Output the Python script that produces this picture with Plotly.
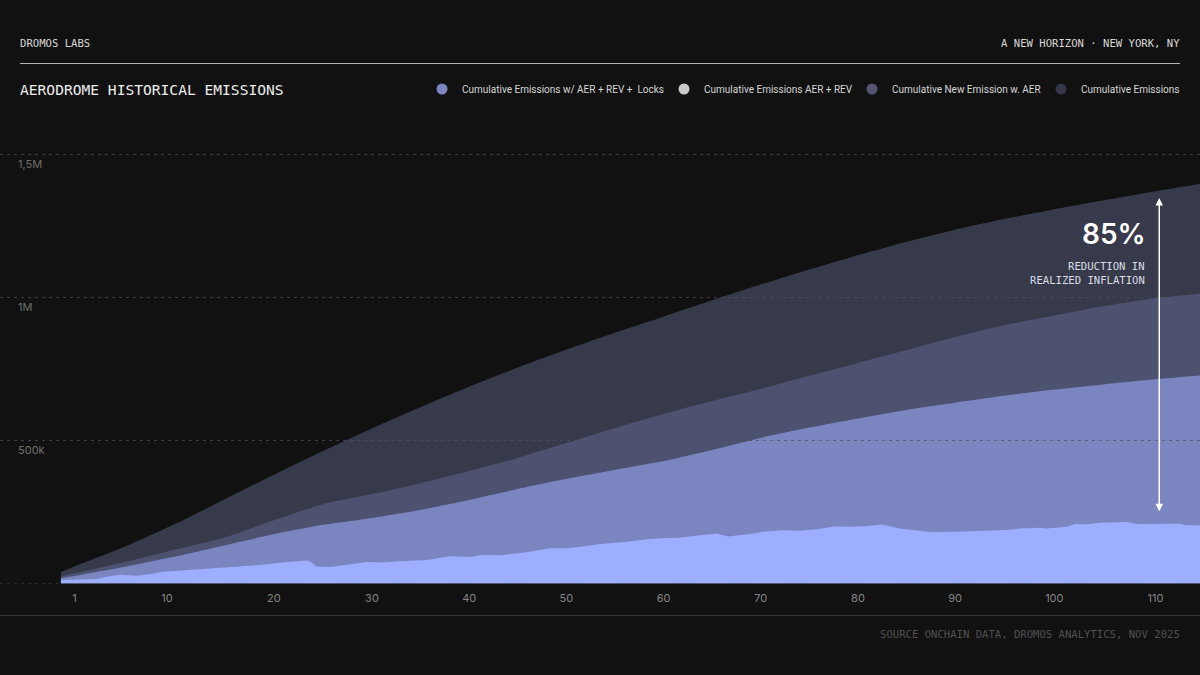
import plotly.graph_objects as go

# values in thousands, x in weeks
weeks_smooth = [-2, 0, 5, 10, 15, 20, 25, 30, 35, 40, 45, 50, 55, 60, 65, 70, 75, 80, 85, 90, 95, 100, 105, 110, 115.2]
cumulative = [40, 68, 135, 212, 297, 382, 464, 542, 617, 688, 755, 818, 877, 933, 990, 1045, 1098, 1148, 1195, 1237, 1274, 1307, 1338, 1368, 1398]
new_emission_aer = [26, 40, 79, 121, 163, 222, 278, 313, 350, 393, 439, 491, 544, 593, 638, 680, 726, 771, 816, 862, 903, 935, 968, 995, 1013]
emissions_aer_rev = [19, 30, 61, 96, 135, 173, 205, 229, 257, 292, 330, 366, 397, 428, 467, 509, 545, 577, 607, 632, 656, 677, 695, 712, 727]

weeks_locks = [
    -2.0, 1.7, 2.7, 4.1, 4.9, 5.8, 7.2, 8.5, 12.3, 15.7, 18.5, 20.8, 23.3, 23.8, 24.3, 25.7,
    27.4, 29.5, 31.1, 32.9, 35.7, 38.0, 40.1, 41.1, 43.2, 45.9, 48.3, 50.1, 52.1, 53.5, 56.2,
    58.3, 60.3, 61.7, 63.0, 65.5, 66.6, 68.9, 70.2, 72.3, 74.0, 75.8, 77.6, 79.2, 80.9, 82.5,
    84.3, 87.4, 90.2, 92.6, 95.3, 96.7, 98.7, 99.4, 101.5, 102.3, 103.6, 104.9, 107.8, 108.7,
    110.0, 111.8, 113.1, 113.8, 115.2,
]
emissions_locks = [
    12, 16, 24, 31, 29, 27, 33, 41, 50, 57, 65, 73, 80, 73, 59, 58,
    66, 75, 73, 78, 82, 95, 93, 99, 99, 109, 123, 123, 131, 138, 146,
    155, 159, 160, 166, 175, 164, 173, 181, 186, 184, 190, 199, 198, 201, 206,
    192, 180, 181, 184, 187, 192, 195, 192, 198, 208, 207, 212, 215, 208,
    208, 209, 209, 204, 203,
]

# label positions on the week axis, the picture spaces them a little unevenly
x_tick_vals = [-0.6, 8.9, 19.9, 30, 40, 50, 60, 70, 80, 90, 100.2, 110.6]
x_tick_text = ["1", "10", "20", "30", "40", "50", "60", "70", "80", "90", "100", "110"]
y_tick_vals = [0, 500, 1000, 1500]
y_tick_text = ["", "500k", "1M", "1,5M"]

legend_names = [
    "Cumulative Emissions w/ AER + REV +  Locks",
    "Cumulative Emissions AER + REV",
    "Cumulative New Emission w. AER",
    "Cumulative Emissions",
]
legend_colors = ["#7B86C0", "#C9C9C9", "#54566F", "#353749"]
legend_text_px = [462, 704, 892, 1081]

BG = "#111111"
MONO = "DejaVu Sans Mono"
SANS = "Inter"

fig = go.Figure()

areas = [
    (weeks_smooth, cumulative, "#373A4A", legend_names[3], "spline"),
    (weeks_smooth, new_emission_aer, "#4E5271", legend_names[2], "spline"),
    (weeks_smooth, emissions_aer_rev, "#7B86C0", legend_names[1], "spline"),
    (weeks_locks, emissions_locks, "#9DAEFF", legend_names[0], "linear"),
]
for xs, ys, color, name, shape in areas:
    fig.add_trace(
        go.Scatter(
            x=xs,
            y=ys,
            mode="lines",
            name=name,
            fill="tozeroy",
            fillcolor=color,
            line={"width": 0, "color": color, "shape": shape, "smoothing": 0.6},
            showlegend=False,
        )
    )

# one legend per entry, the gaps between entries are not what plotly would give
legend_layout = {}
for i, (name, color, px) in enumerate(zip(legend_names, legend_colors, legend_text_px)):
    key = "legend" if i == 0 else f"legend{i + 1}"
    fig.add_trace(
        go.Scatter(
            x=[None],
            y=[None],
            mode="markers",
            name=name,
            legend=key,
            marker={"color": color, "size": 11},
        )
    )
    legend_layout[key] = {
        "orientation": "h",
        "x": (px - 40) / 1200,
        "xanchor": "left",
        "y": 1 - 89 / 675,
        "yanchor": "middle",
        "bgcolor": "rgba(0,0,0,0)",
        "font": {"family": "Roboto", "size": 10, "color": "#D6D6D6"},
    }

for val in y_tick_vals:
    fig.add_shape(
        type="line",
        xref="paper",
        yref="y",
        x0=0,
        x1=1,
        y0=val,
        y1=val,
        layer="above",
        line={"color": "rgba(80,80,95,0.7)", "width": 1, "dash": "3px,4px"},
    )

fig.add_shape(type="line", xref="paper", yref="paper", x0=20 / 1200, x1=1180 / 1200, y0=1 - 63.5 / 675, y1=1 - 63.5 / 675, line={"color": "#B4B4B4", "width": 1})
fig.add_shape(type="line", xref="paper", yref="paper", x0=0, x1=1, y0=1 - 615.5 / 675, y1=1 - 615.5 / 675, line={"color": "#333333", "width": 1})


def label(text, px, py, anchor, size, color, family=MONO, weight=None):
    fig.add_annotation(
        text=text,
        xref="paper",
        yref="paper",
        x=px / 1200,
        y=1 - py / 675,
        xanchor=anchor,
        yanchor="middle",
        xshift=-2 if anchor == "left" else 2,
        showarrow=False,
        align=anchor,
        font={"family": family, "size": size, "color": color, "weight": weight},
    )


label("DROMOS LABS", 20, 42.5, "left", 10.6, "#D8D8D8")
label("A NEW HORIZON · NEW YORK, NY", 1180, 42.5, "right", 10.6, "#D8D8D8")
label("AERODROME HISTORICAL EMISSIONS", 20, 89, "left", 14.6, "#EDEDED")
label("SOURCE ONCHAIN DATA, DROMOS ANALYTICS, NOV 2025", 1180, 633.5, "right", 10.6, "#505050")
label("85%", 1146, 234, "right", 28, "#FFFFFF", family=SANS, weight=600)
label("REDUCTION IN", 1145, 266, "right", 10.6, "#DADCE6")
label("REALIZED INFLATION", 1145, 280, "right", 10.6, "#DADCE6")

# the 85% span between the top and the lowest band
fig.add_annotation(
    x=111,
    y=1348,
    ax=111,
    ay=247,
    xref="x",
    yref="y",
    axref="x",
    ayref="y",
    text="",
    showarrow=True,
    arrowside="end+start",
    arrowhead=2,
    arrowsize=1,
    arrowwidth=1.5,
    arrowcolor="#FFFFFF",
    standoff=0,
    startstandoff=0,
)

fig.update_layout(
    width=1200,
    height=675,
    margin={"l": 0, "r": 0, "t": 0, "b": 0},
    paper_bgcolor=BG,
    plot_bgcolor=BG,
    showlegend=True,
    **legend_layout,
)
fig.update_xaxes(
    domain=[0, 1],
    range=[-8.27, 115.19],
    tickmode="array",
    tickvals=x_tick_vals,
    ticktext=x_tick_text,
    showgrid=False,
    zeroline=False,
    showline=False,
    ticks="",
    ticklabelstandoff=6,
    tickfont={"family": SANS, "size": 11, "color": "#858585"},
)
fig.update_yaxes(
    domain=[91.5 / 675, 1],
    range=[0, 2040],
    tickmode="array",
    tickvals=y_tick_vals,
    ticktext=y_tick_text,
    showgrid=False,
    zeroline=False,
    showline=False,
    ticks="",
    ticklabelposition="inside",
    ticklabelstandoff=15,
    ticklabelshift=10,
    tickfont={"family": SANS, "size": 11, "color": "#6E6E6E"},
)

fig.write_html(
    "out.html",
    config={"displayModeBar": False},
    post_script="document.body.style.margin = '0';",
)
